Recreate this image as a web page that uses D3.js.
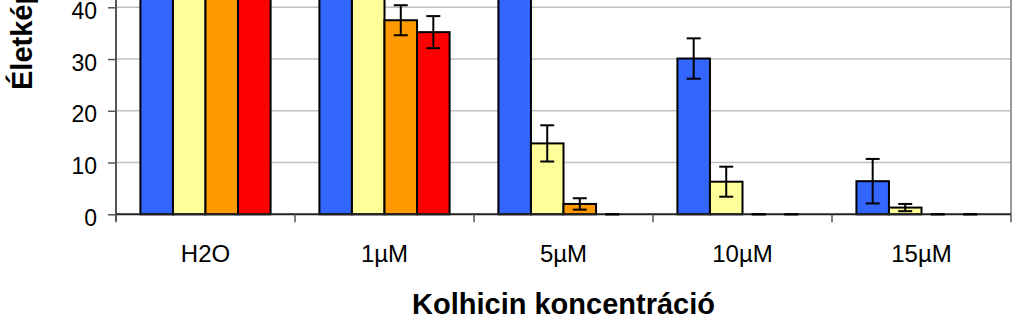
<!DOCTYPE html>
<html>
<head>
<meta charset="utf-8">
<script src="https://cdn.jsdelivr.net/npm/d3@7"></script>
<style>
  html, body { margin: 0; padding: 0; background: #fff; }
  svg { display: block; font-family: Arial, "Liberation Sans", sans-serif; }
</style>
</head>
<body>
<svg id="chart" width="1024" height="330"></svg>
<script>
// Kolhicin concentrations on the x axis
const categories = ["H2O", "1µM", "5µM", "10µM", "15µM"];
const seriesKeys = ["A", "B", "C", "D"];
const seriesColors = ["#3366FF", "#FFFF99", "#FF9900", "#FF0000"];

// Viability (%) for each series, one value per concentration
const valuesA = [97, 93, 64, 30.1, 6.4];
const valuesB = [95, 80, 13.7, 6.3, 1.3];
const valuesC = [94, 37.5, 2.0, 0, 0];
const valuesD = [96, 35.2, 0, 0, 0];

// Error (±) for each bar
const errorsA = [3, 4, 5, 3.9, 4.3];
const errorsB = [3, 4, 3.5, 2.9, 0.7];
const errorsC = [3, 2.9, 1.1, 0, 0];
const errorsD = [3, 3.1, 0, 0, 0];

const yTicks = [0, 10, 20, 30, 40];

const allValues = [valuesA, valuesB, valuesC, valuesD];
const allErrors = [errorsA, errorsB, errorsC, errorsD];

const svg = d3.select("#chart");

const plotLeft = 116, plotRight = 1011;
const yTopValue = 100;

const x0 = d3.scaleBand().domain(categories).range([plotLeft, plotRight]).padding(0);
const x1 = d3.scaleBand().domain(seriesKeys).range([0, x0.bandwidth()])
  .paddingInner(0).paddingOuter(0.75);
const y = d3.scaleLinear().domain([0, 40]).range([214.3, 7.3]);

// horizontal gridlines
svg.append("g").selectAll("line")
  .data(yTicks.filter(t => t > 0))
  .join("line")
  .attr("x1", plotLeft).attr("x2", plotRight)
  .attr("y1", d => y(d)).attr("y2", d => y(d))
  .attr("stroke", "#bfbfbf").attr("stroke-width", 1.5);

// right border of the plot area
svg.append("line")
  .attr("x1", plotRight).attr("x2", plotRight)
  .attr("y1", y(yTopValue)).attr("y2", y(0))
  .attr("stroke", "#9a9a9a").attr("stroke-width", 2);

// bar records
const records = [];
categories.forEach((c, ci) => {
  seriesKeys.forEach((s, si) => {
    records.push({ cat: c, key: s, color: seriesColors[si],
      value: allValues[si][ci], err: allErrors[si][ci] });
  });
});

const groups = svg.append("g");
groups.selectAll("rect")
  .data(records.filter(d => d.value > 0))
  .join("rect")
  .attr("x", d => x0(d.cat) + x1(d.key))
  .attr("width", x1.bandwidth())
  .attr("y", d => y(d.value))
  .attr("height", d => y(0) - y(d.value))
  .attr("fill", d => d.color)
  .attr("stroke", "#000").attr("stroke-width", 2);

// y axis
const yAxis = d3.axisLeft(y).tickValues(yTicks).tickSize(8).tickSizeOuter(0);
const gy = svg.append("g").attr("transform", `translate(${plotLeft},0)`).call(yAxis);
gy.select(".domain").attr("stroke", "#555").attr("stroke-width", 2)
  .attr("d", `M0,${y(yTopValue)}V${y(0) + 7}`);
gy.selectAll(".tick line").attr("stroke", "#555").attr("stroke-width", 1.5);
gy.selectAll(".tick text")
  .attr("x", -19).attr("dy", null).attr("y", 11)
  .attr("font-size", 23).attr("font-family", "Arial, 'Liberation Sans', sans-serif")
  .attr("fill", "#000");

// x axis
const xAxis = d3.axisBottom(x0).tickSize(0).tickPadding(0);
const gx = svg.append("g").attr("transform", `translate(0,${y(0)})`).call(xAxis);
gx.select(".domain").attr("stroke", "#222").attr("stroke-width", 2)
  .attr("d", `M${plotLeft},0H${plotRight}`);
gx.selectAll(".tick text")
  .attr("y", 48).attr("dy", null)
  .attr("font-size", 24).attr("font-family", "Arial, 'Liberation Sans', sans-serif")
  .attr("fill", "#000");
// category boundary ticks
svg.append("g").selectAll("line")
  .data(categories.concat(["end"]))
  .join("line")
  .attr("x1", (d, i) => i < categories.length ? x0(d) : plotRight)
  .attr("x2", (d, i) => i < categories.length ? x0(d) : plotRight)
  .attr("y1", y(0)).attr("y2", y(0) + 8)
  .attr("stroke", "#555").attr("stroke-width", 1.5);

// error bars
const capHalf = 7;
const eb = svg.append("g").attr("stroke", "#000").attr("stroke-width", 2).attr("fill", "none");
records.forEach(d => {
  const cx = x0(d.cat) + x1(d.key) + x1.bandwidth() / 2;
  const top = y(d.value + d.err), bot = y(Math.max(0, d.value - d.err));
  eb.append("line").attr("x1", cx).attr("x2", cx).attr("y1", top).attr("y2", bot);
  eb.append("line").attr("x1", cx - capHalf).attr("x2", cx + capHalf).attr("y1", top).attr("y2", top);
  eb.append("line").attr("x1", cx - capHalf).attr("x2", cx + capHalf).attr("y1", bot).attr("y2", bot);
});

// axis titles
svg.append("text")
  .attr("x", (plotLeft + plotRight) / 2).attr("y", 313.5)
  .attr("text-anchor", "middle")
  .attr("font-size", 29).attr("font-weight", "bold")
  .text("Kolhicin koncentráció");

svg.append("text")
  .attr("transform", "translate(32,90) rotate(-90)")
  .attr("text-anchor", "start")
  .attr("font-size", 29).attr("font-weight", "bold")
  .text("Életképesség (%)");
</script>
</body>
</html>
